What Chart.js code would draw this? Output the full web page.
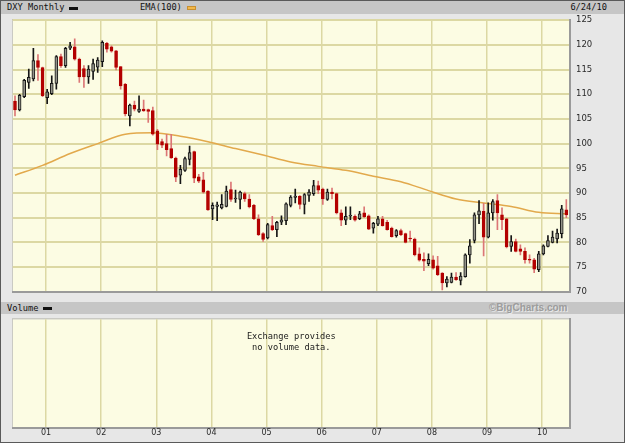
<!DOCTYPE html>
<html>
<head>
<meta charset="utf-8">
<script src="https://cdn.jsdelivr.net/npm/chart.js@4.4.0/dist/chart.umd.min.js"></script>
<style>
  html, body { margin: 0; padding: 0; }
  body { width: 625px; height: 443px; position: relative; overflow: hidden; background: #e7e7e7; }
  .frame { position: absolute; left: 0; top: 0; width: 625px; height: 443px; box-sizing: border-box; border: 1px solid #5a5a5a; pointer-events: none; }
  .bar { position: absolute; left: 1px; width: 623px; background: #c6c6c6; font: 8.7px "DejaVu Sans Mono", monospace; color: #111; }
  .bar span { position: absolute; white-space: nowrap; }
  .swatch { position: absolute; height: 3px; }
  canvas { position: absolute; }
</style>
</head>
<body>
<div class="bar" style="top:1px;height:13px;">
  <span style="left:6px;top:1px;">DXY Monthly</span>
  <div class="swatch" style="left:68px;top:6px;width:9px;background:#111;"></div>
  <span style="left:139px;top:1px;">EMA(100)</span>
  <div class="swatch" style="left:186px;top:5px;width:9px;background:#f2b84a;border:1px solid #c89030;box-sizing:border-box;height:4px;"></div>
  <span style="right:17px;top:1px;">6/24/10</span>
</div>
<div class="bar" style="top:302px;height:12px;">
  <span style="left:6px;top:1px;">Volume</span>
  <div class="swatch" style="left:42px;top:5px;width:9px;background:#111;"></div>
  <span style="left:488px;top:0px;font:bold 10px 'Liberation Sans',sans-serif;color:#9c9c9c;text-shadow:1px 1px 0 #e8e8e8;">©BigCharts.com</span>
</div>
<canvas id="price" width="600" height="282" style="left:12px;top:15px;"></canvas>
<canvas id="volume" width="600" height="126" style="left:12px;top:313px;"></canvas>
<div class="frame"></div>
<script>
// monthly candles, Jun 2000 .. Jun 2010 (index 0 = Jun 2000)
const opens = [
  108.6, 106.8, 109.5, 112.4, 113.1, 116.8, 115.4,
  109.3, 110.1, 112.2, 117.6, 115.8, 119.3, 119.6, 117.1, 115.2, 113.5, 114.6, 115.5,
  116.6, 120.3, 119.6, 118.8, 115.6, 112.0, 105.6, 107.8, 106.5, 107.0, 106.9, 106.7,
  102.6, 100.4, 100.0, 99.0, 97.1, 93.6, 94.6, 96.8, 98.4, 93.3, 92.7, 90.4,
  86.8, 87.3, 87.0, 87.3, 90.7, 88.8, 88.7, 89.9, 88.8, 87.5, 84.8, 81.8,
  80.9, 83.4, 82.6, 84.1, 84.4, 87.5, 89.1, 89.4, 87.7, 89.5, 89.9, 91.5,
  90.8, 88.7, 90.2, 89.9, 86.0, 84.5, 85.3, 85.3, 84.8, 86.0, 85.4, 82.9,
  83.7, 84.8, 84.1, 82.9, 81.4, 82.4, 81.8, 80.9, 80.7, 77.7, 76.6, 75.7,
  76.5, 75.3, 73.8, 71.8, 71.9, 73.0, 72.3, 73.1, 77.5, 80.4, 85.6, 86.3,
  81.1, 86.0, 88.5, 85.6, 84.8, 79.2, 80.2, 78.7, 78.2, 76.6, 76.5, 74.5,
  77.7, 79.2, 80.0, 80.7, 81.8, 86.6
];
const highs = [
  109.7, 110.0, 113.0, 115.1, 119.3, 118.0, 115.5,
  111.0, 113.7, 117.8, 118.1, 119.5, 120.5, 121.2, 117.3, 115.8, 115.8, 117.1, 117.4,
  120.8, 120.5, 119.8, 118.9, 115.6, 112.2, 108.0, 108.6, 109.7, 108.8, 107.0, 107.4,
  102.9, 100.9, 101.9, 101.9, 97.3, 95.6, 97.3, 99.5, 98.5, 93.8, 94.2, 90.5,
  88.0, 88.2, 89.7, 91.4, 92.2, 90.6, 90.4, 90.2, 89.7, 87.7, 85.6, 82.0,
  83.9, 85.3, 84.3, 85.4, 88.0, 89.5, 90.8, 89.5, 89.9, 90.7, 92.6, 92.4,
  91.0, 90.8, 91.0, 90.0, 86.6, 87.2, 87.2, 85.6, 86.3, 87.2, 85.6, 84.1,
  85.3, 85.3, 84.5, 83.1, 82.6, 82.7, 81.9, 82.3, 80.9, 78.9, 77.9, 77.7,
  77.3, 77.2, 73.9, 73.1, 73.8, 73.9, 73.9, 77.7, 80.6, 86.0, 88.5, 87.9,
  88.0, 88.7, 89.7, 87.0, 84.9, 81.4, 80.7, 79.5, 78.9, 77.5, 76.8, 78.2,
  79.5, 81.4, 82.3, 82.7, 87.5, 88.7
];
const lows = [
  105.6, 106.6, 109.3, 111.2, 112.7, 112.8, 109.5,
  108.1, 109.9, 111.0, 115.4, 115.4, 119.0, 116.9, 112.4, 111.4, 112.2, 113.0, 114.4,
  115.6, 118.5, 118.5, 114.9, 111.0, 105.6, 103.6, 106.6, 106.3, 106.5, 104.3, 101.7,
  98.8, 99.2, 97.5, 97.0, 92.3, 91.9, 94.4, 95.7, 92.1, 92.1, 90.0, 86.5,
  84.6, 84.4, 86.8, 87.2, 88.3, 88.1, 86.8, 88.3, 87.0, 84.6, 81.4, 80.2,
  80.7, 82.4, 81.2, 83.6, 83.6, 87.2, 88.0, 86.8, 85.8, 88.3, 89.5, 89.9,
  87.7, 88.5, 88.8, 85.8, 83.4, 83.6, 84.6, 84.3, 84.6, 85.0, 82.6, 81.9,
  83.4, 83.3, 82.5, 81.1, 81.1, 81.4, 79.9, 80.2, 77.3, 76.2, 74.3, 75.3,
  74.6, 73.3, 70.4, 71.0, 71.8, 72.3, 71.4, 73.0, 75.8, 79.9, 83.8, 77.3,
  80.9, 84.5, 82.6, 82.6, 78.9, 78.2, 78.1, 77.5, 75.8, 75.8, 73.9, 74.1,
  77.5, 79.1, 79.9, 79.9, 80.9, 85.0
];
const closes = [
  106.8, 109.8, 112.8, 113.4, 116.8, 115.4, 109.7,
  110.5, 112.2, 117.6, 115.8, 119.3, 119.8, 117.1, 113.5, 113.5, 115.1, 116.2, 116.9,
  120.5, 119.1, 118.7, 115.4, 111.7, 106.0, 107.8, 107.0, 107.0, 106.6, 106.5, 101.9,
  99.9, 99.7, 98.8, 97.1, 93.2, 94.8, 97.0, 98.2, 93.0, 92.4, 90.2, 86.6,
  87.5, 87.6, 87.7, 90.4, 88.7, 89.0, 90.2, 88.8, 87.2, 84.8, 81.6, 80.6,
  83.6, 82.6, 84.1, 84.6, 87.8, 89.2, 89.4, 87.7, 89.7, 90.2, 91.5, 90.6,
  88.8, 90.2, 89.9, 86.0, 84.5, 85.3, 85.5, 84.5, 85.8, 85.2, 82.7, 83.9,
  84.8, 83.4, 82.6, 81.2, 82.4, 81.6, 80.0, 80.7, 77.5, 76.4, 76.2, 76.6,
  74.8, 73.5, 71.8, 72.6, 73.0, 72.5, 73.2, 77.5, 79.3, 85.6, 86.4, 81.1,
  86.0, 88.3, 86.0, 84.6, 79.1, 80.2, 78.2, 78.2, 76.5, 76.4, 74.6, 77.7,
  79.3, 80.4, 81.1, 81.9, 86.8, 85.6
];

// EMA(100) read at every sixth month
const emaMonths = [0, 6, 12, 18, 24, 30, 36, 42, 48, 54, 60, 66, 72, 78, 84, 90, 96, 102, 108, 114, 120];
const emaValues = [93.6, 95.6, 98.0, 100.0, 101.9, 102.2, 101.5, 100.4, 99.0, 97.7, 96.3, 95.4, 94.6, 93.4, 92.3, 90.5, 88.8, 88.0, 87.3, 86.1, 85.8];

// year boundaries (just before each January candle)
const yearGrid = [6.75, 18.75, 30.75, 42.75, 54.75, 66.75, 78.75, 90.75, 102.75, 114.75];
const yearLabels = ["01", "02", "03", "04", "05", "06", "07", "08", "09", "10"];

const X_MIN = -0.5;
const X_MAX = 120.8;

(function () {
  const t = {
    plotBg: "#fcfce3",
    grid: "#dcd8a3",
    frame: "#9a9a9a",
    up: "#151515",
    upFill: "#939389",
    down: "#b30000",
    downWick: "#dc7676",
    ema: "#e2a94c",
    text: "#2a2a2a",
  };

  const plotBg = {
    id: "plotBg",
    beforeDraw(chart) {
      const { ctx, chartArea: a } = chart;
      ctx.save();
      ctx.fillStyle = t.plotBg;
      ctx.fillRect(a.left, a.top, a.width, a.height);
      ctx.strokeStyle = "#bdbdb5";
      ctx.lineWidth = 1;
      ctx.strokeRect(a.left - 0.5, a.top - 0.5, a.width + 1, a.height + 1);
      ctx.restore();
    },
  };

  const noVolume = {
    id: "noVolume",
    afterDraw(chart) {
      const { ctx, chartArea: a } = chart;
      const cx = (a.left + a.right) / 2;
      ctx.save();
      ctx.fillStyle = "#1a1a1a";
      ctx.font = '8.7px "DejaVu Sans Mono", monospace';
      ctx.textAlign = "center";
      ctx.textBaseline = "middle";
      ctx.fillText("Exchange provides", cx, a.top + 17);
      ctx.fillText("no volume data.", cx, a.top + 28);
      ctx.restore();
    },
  };

  const idx = opens.map((_, i) => i);
  const isUp = (i) => closes[i] >= opens[i];

  const xScale = (showLabels) => ({
    type: "linear",
    min: X_MIN,
    max: X_MAX,
    offset: false,
    afterBuildTicks: (s) => {
      s.ticks = yearGrid.map((v) => ({ value: v }));
    },
    ticks: {
      display: showLabels,
      autoSkip: false,
      maxRotation: 0,
      padding: 0,
      color: t.text,
      font: { family: "DejaVu Sans", size: 8 },
      callback: (v, i) => yearLabels[i],
    },
    grid: { color: t.grid, lineWidth: 1.5, drawTicks: false, offset: false },
    border: { color: t.frame, width: 2 },
    afterFit: (s) => {
      s.height = showLabels ? 11 : 0;
    },
  });

  new Chart(document.getElementById("price"), {
    type: "bar",
    data: {
      datasets: [
        {
          type: "line",
          label: "EMA(100)",
          data: emaMonths.map((m, k) => ({ x: m, y: emaValues[k] })),
          borderColor: t.ema,
          borderWidth: 1.5,
          pointRadius: 0,
          pointHoverRadius: 0,
          cubicInterpolationMode: "monotone",
          order: 3,
        },
        {
          label: "wick",
          data: idx.map((i) => ({ x: i, y: [lows[i], highs[i]] })),
          backgroundColor: idx.map((i) => (isUp(i) ? t.up : t.downWick)),
          barThickness: 1,
          grouped: false,
          order: 2,
        },
        {
          label: "DXY Monthly",
          data: idx.map((i) => ({ x: i, y: [opens[i], closes[i]] })),
          backgroundColor: idx.map((i) => (isUp(i) ? t.upFill : t.down)),
          borderColor: idx.map((i) => (isUp(i) ? t.up : t.down)),
          borderWidth: 1,
          borderSkipped: false,
          barThickness: 3,
          minBarLength: 1,
          grouped: false,
          order: 1,
        },
      ],
    },
    options: {
      responsive: false,
      animation: false,
      events: [],
      layout: { autoPadding: false, padding: { left: 0.7, top: 0, right: 0, bottom: 0 } },
      plugins: { legend: { display: false }, tooltip: { enabled: false } },
      scales: {
        x: xScale(false),
        y: {
          position: "right",
          min: 70,
          max: 125,
          ticks: {
            stepSize: 5,
            padding: 0,
            color: t.text,
            font: { family: "DejaVu Sans", size: 8.5 },
          },
          grid: {
            color: t.grid,
            lineWidth: 2,
            drawTicks: true,
            tickLength: 6,
            tickColor: "rgba(0,0,0,0)",
          },
          border: { color: t.frame, width: 2 },
          afterFit: (s) => {
            s.width = 42;
          },
        },
      },
    },
    plugins: [plotBg],
  });

  new Chart(document.getElementById("volume"), {
    type: "line",
    data: { datasets: [] },
    options: {
      responsive: false,
      animation: false,
      events: [],
      layout: { padding: { left: 0.7, top: 6.3, right: 0, bottom: 0 } },
      plugins: { legend: { display: false }, tooltip: { enabled: false } },
      scales: {
        x: xScale(true),
        y: {
          position: "right",
          min: 0,
          max: 1,
          ticks: { display: false },
          grid: { display: false },
          border: { color: t.frame, width: 2 },
          afterFit: (s) => {
            s.width = 42;
          },
        },
      },
    },
    plugins: [plotBg, noVolume],
  });
})();
</script>
</body>
</html>
